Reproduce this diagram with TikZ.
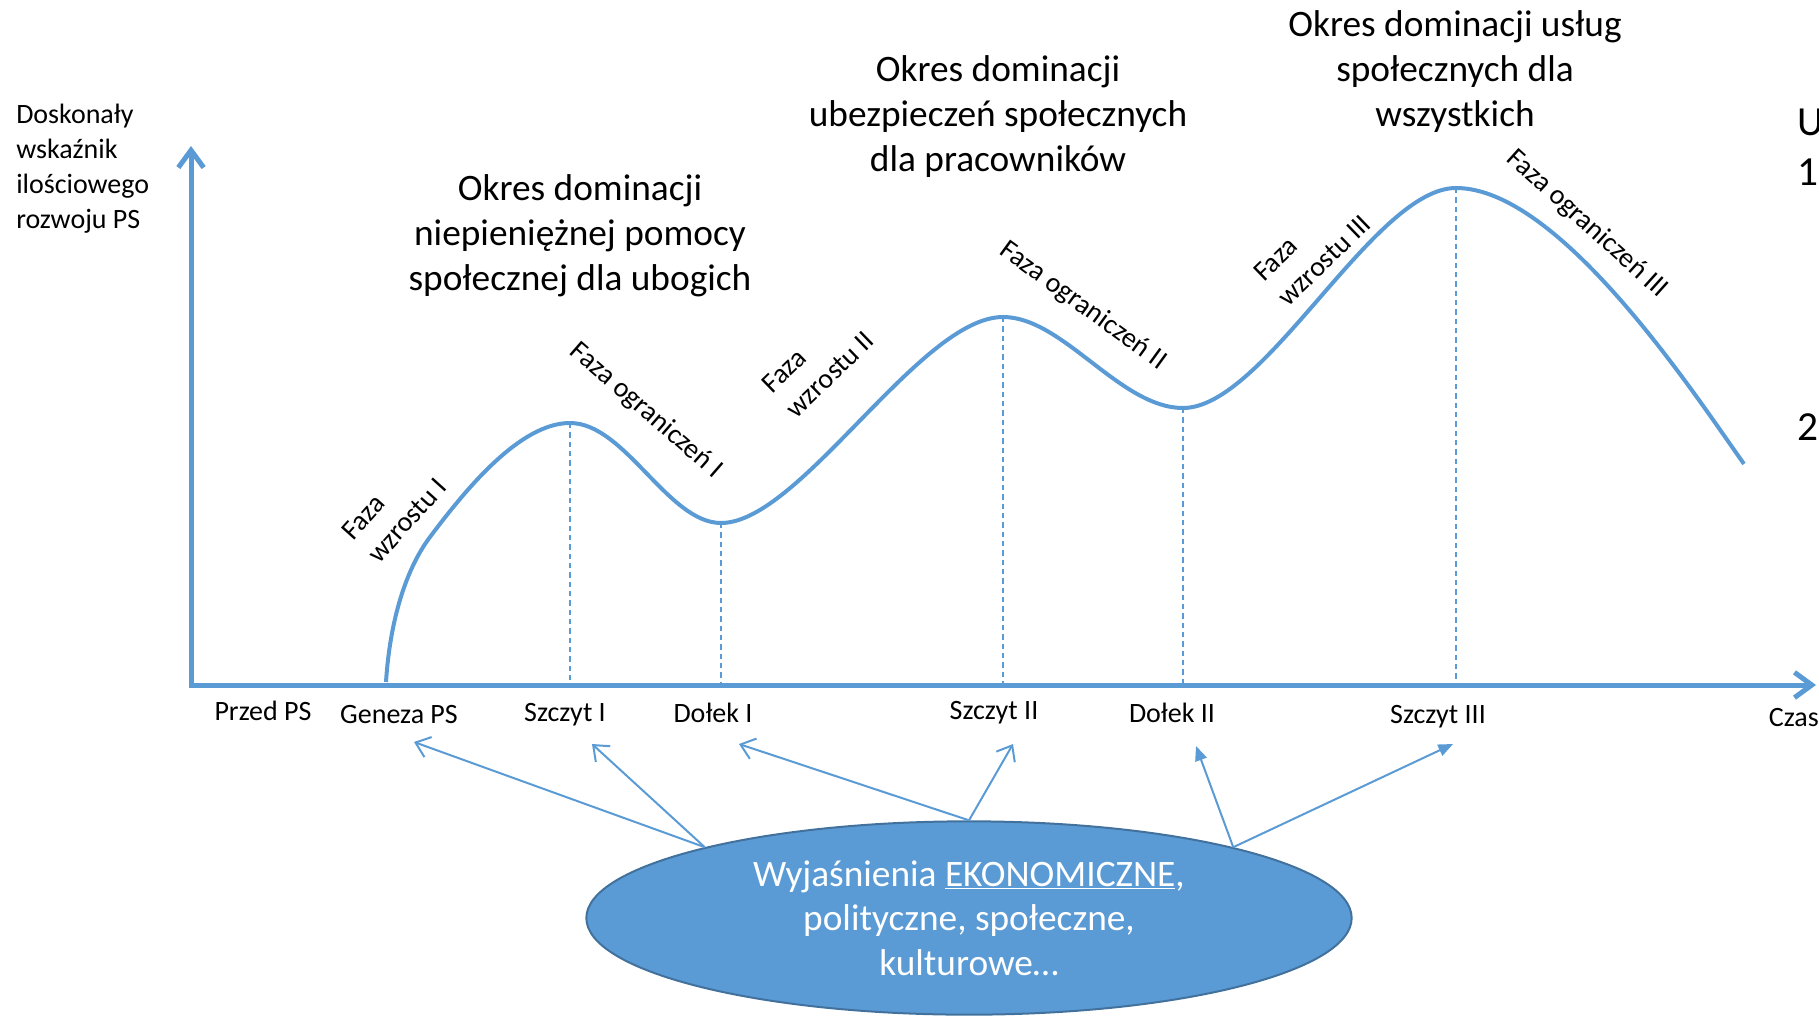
\documentclass[tikz,border=0pt]{standalone}
\usepackage{fontspec}
\setmainfont{Carlito}
\usetikzlibrary{
  arrows.meta,
  shapes.geometric,
}
\definecolor{psblue}{HTML}{5B9BD5}
\definecolor{psedge}{HTML}{41719C}

\begin{document}
\begin{tikzpicture}[x=0.75pt, y=-0.75pt,
    axis/.style={line width=3.75pt, psblue,
      {Straight Barb[length=13pt,width=19pt]}-{Straight Barb[length=13pt,width=19pt]}},
    curve/.style={line width=3pt, psblue},
    guide/.style={line width=0.8pt, psblue, dash pattern=on 4pt off 3pt},
    title/.style={align=center, font=\fontsize{28}{33.75}\selectfont},
    lbl/.style={font=\fontsize{21}{26.25}\selectfont},
    phase/.style={align=left, font=\fontsize{21}{26}\selectfont},
    big/.style={anchor=west, inner sep=0pt, font=\fontsize{31}{37}\selectfont},
    expl/.style={ellipse, draw=psedge, fill=psblue, line width=1.5pt, text=white,
      align=center, inner sep=0pt, minimum width=574pt, minimum height=145pt,
      font=\fontsize{28}{33.5}\selectfont},
    openarr/.style={line width=1.5pt, psblue, -{Straight Barb[length=10pt,width=16pt]}},
    fullarr/.style={line width=1.5pt, psblue, -{Triangle[length=11pt,width=9pt]}},
  ]
      \useasboundingbox (0,0) rectangle (1819,1016);
      \clip (0,0) rectangle (1819,1016);

      % axes
      \coordinate (O) at (191,685);
      \coordinate (ytop) at (191,146);
      \coordinate (xend) at (1816,685);
      \draw [axis] (ytop) -- (O) -- (xend);

      % development curve
      \coordinate (g0) at (386,682);
      \coordinate (g1) at (430,537);
      \coordinate (p1) at (570,423);
      \coordinate (d1) at (721,523);
      \coordinate (p2) at (1003,317);
      \coordinate (d2) at (1183,408);
      \coordinate (p3) at (1456,188);
      \coordinate (ge) at (1744,464);
      \draw [curve] (g0) .. controls (390,620) and (406,569) .. (g1)
        .. controls (466,489) and (520,423) .. (p1)
        .. controls (625,423) and (668,523) .. (d1)
        .. controls (800,523) and (920,317) .. (p2)
        .. controls (1063,317) and (1120,408) .. (d2)
        .. controls (1265,408) and (1374,188) .. (p3)
        .. controls (1560,188) and (1695,395) .. (ge);
      \foreach \pt in {p1,d1,p2,d2,p3}
        \draw [guide] (\pt) -- (\pt |- O);

      % axis labels
      \node [lbl, align=left, anchor=west, inner sep=0pt] (yname) at (16,169)
        {Doskonały\\wskaźnik\\ilościowego\\rozwoju PS};
      \node [lbl] (przed) at (263,711) {Przed PS};
      \node [lbl] (geneza) at (399,715) {Geneza PS};
      \node [lbl] (sz1) at (565,715) {Szczyt I};
      \node [lbl] (dol1) at (713,713) {Dołek I};
      \node [lbl] (sz2) at (994,713) {Szczyt II};
      \node [lbl] (dol2) at (1172,713) {Dołek II};
      \node [lbl] (sz3) at (1438,717) {Szczyt III};
      \node [lbl, anchor=east, inner sep=0pt] (czas) at (1819,718) {Czas};

      % periods
      \node [title] (t1) at (580,236) {Okres dominacji\\niepieniężnej pomocy\\społecznej dla ubogich};
      \node [title] (t2) at (998,117) {Okres dominacji\\ubezpieczeń społecznych\\dla pracowników};
      \node [title] (t3) at (1455,72) {Okres dominacji usług\\społecznych dla\\wszystkich};

      % cut off at the right edge
      \node [big] (u) at (1797,122) {U};
      \node [big] (one) at (1797,172) {1};
      \node [big] (two) at (1797,427) {2};

      % phases
      \node [phase, rotate=48] (w1) at (394,509) {Faza\\wzrostu I};
      \node [phase, rotate=-41] (o1) at (646,411) {Faza ograniczeń I};
      \node [phase, rotate=44] (w2) at (818,362) {Faza\\wzrostu II};
      \node [phase, rotate=-36] (o2) at (1083,306) {Faza ograniczeń II};
      \node [phase, rotate=44] (w3) at (1312,248) {Faza\\wzrostu III};
      \node [phase, rotate=-42] (o3) at (1587,224) {Faza ograniczeń III};

      % explanations
      \node [expl] (expl) at (969,918)
        {Wyjaśnienia \underline{EKONOMICZNE},\\polityczne, społeczne,\\kulturowe…};
      \coordinate (tgen) at (414,742);
      \coordinate (tsz1) at (592,744);
      \coordinate (tdol1) at (739,744);
      \coordinate (tsz2) at (1013,744);
      \coordinate (tdol2) at (1196,746);
      \coordinate (tsz3) at (1453,744);
      \draw [openarr] (expl.165) -- (tgen);
      \draw [openarr] (expl.165) -- (tsz1);
      \draw [openarr] (expl.north) -- (tdol1);
      \draw [openarr] (expl.north) -- (tsz2);
      \draw [fullarr] (expl.15) -- (tdol2);
      \draw [fullarr] (expl.15) -- (tsz3);
    \end{tikzpicture}
\end{document}
